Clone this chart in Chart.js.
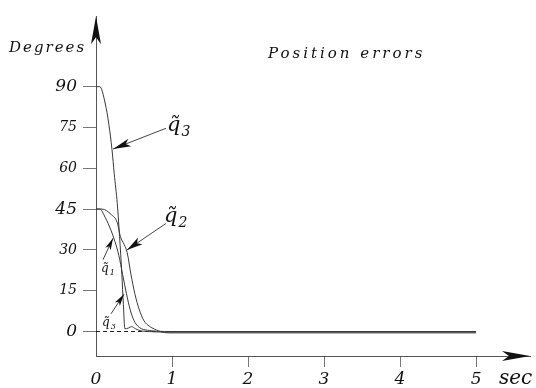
<!DOCTYPE html>
<html>
<head>
<meta charset="utf-8">
<script src="https://cdn.jsdelivr.net/npm/chart.js@4.4.1/dist/chart.umd.min.js"></script>
<style>
html, body { margin: 0; padding: 0; background: #fff; }
#wrap { width: 536px; height: 388px; }
</style>
</head>
<body>
<div id="wrap"><canvas id="chart" width="536" height="388"></canvas></div>
<script>
// values (time in sec, error in degrees)
var timeQ1 = [0, 0.05, 0.12, 0.2, 0.25, 0.3, 0.35, 0.4, 0.45, 0.5, 0.55, 0.6, 0.7, 0.8, 1.0, 5.0];
var errQ1  = [45, 45, 42, 37, 33, 28, 21, 14, 8, 4, 2, 1, 0.4, 0.1, 0, 0];

var timeQ2 = [0, 0.08, 0.2, 0.28, 0.32, 0.37, 0.41, 0.46, 0.51, 0.57, 0.63, 0.7, 0.8, 0.9, 1.0, 5.0];
var errQ2  = [45, 45, 43, 40, 35, 32, 29, 21, 14, 8, 4, 2, 0.5, -0.4, -0.5, -0.5];

var timeQ3 = [0, 0.05, 0.12, 0.17, 0.21, 0.24, 0.28, 0.31, 0.34, 0.36, 0.38, 0.42, 0.47, 0.52, 0.6, 1.0, 5.0];
var errQ3  = [90, 90, 84, 76, 67, 58, 47, 35, 21, 10, 1, 1.2, 1.8, 1, 0.2, -0.2, -0.2];

var zeroTime = [0, 5];
var zeroErr  = [0, 0];

var yTicks = [0, 15, 30, 45, 60, 75, 90];
var bigYTicks = [0, 45, 90];
var xTicks = [0, 1, 2, 3, 4, 5];

function toPoints(ts, vs) {
    return ts.map(function (t, i) { return { x: t, y: vs[i] }; });
}

var serif = '"DejaVu Serif", serif';

// stealth style arrow head with its tip at (x2, y2)
function arrowHead(ctx, x1, y1, x2, y2, len, half) {
    var a = Math.atan2(y2 - y1, x2 - x1);
    var cos = Math.cos(a), sin = Math.sin(a);
    var bx = x2 - len * cos, by = y2 - len * sin;
    var mx = x2 - len * 0.75 * cos, my = y2 - len * 0.75 * sin;
    ctx.beginPath();
    ctx.moveTo(x2, y2);
    ctx.lineTo(bx - half * sin, by + half * cos);
    ctx.lineTo(mx, my);
    ctx.lineTo(bx + half * sin, by - half * cos);
    ctx.closePath();
    ctx.fill();
}

// curve names, anchored in data units
var notes = [
    { sub: '3', t: 0.934, v: 73.6, size: 21, subSize: 14, drop: 5 },
    { sub: '2', t: 0.895, v: 40.1, size: 21, subSize: 14, drop: 5 },
    { sub: '1', t: 0.066, v: 21.7, size: 12, subSize: 8, drop: 3 },
    { sub: '3', t: 0.08, v: 2.2, size: 12, subSize: 8, drop: 3 }
];

var arrows = [
    { from: [0.92, 74.7], to: [0.224, 67.1], len: 18, half: 4 },
    { from: [0.92, 39.7], to: [0.408, 30], len: 16, half: 4 },
    { from: [0.092, 26.4], to: [0.224, 34.3], len: 12, half: 3 },
    { from: [0.197, 6.5], to: [0.368, 13.7], len: 12, half: 3 }
];

var decorPlugin = {
    id: 'decor',
    afterDraw: function (chart) {
        var ctx = chart.ctx;
        var xs = chart.scales.x, ys = chart.scales.y;
        var area = chart.chartArea;
        ctx.save();
        ctx.fillStyle = '#111';
        ctx.strokeStyle = '#444';
        ctx.lineWidth = 1;

        // axis arrows
        arrowHead(ctx, area.left, area.top + 40, area.left, area.top, 28, 5);
        arrowHead(ctx, area.right - 40, area.bottom, area.right, area.bottom, 28, 5);

        // annotation arrows
        arrows.forEach(function (a) {
            var x1 = xs.getPixelForValue(a.from[0]), y1 = ys.getPixelForValue(a.from[1]);
            var x2 = xs.getPixelForValue(a.to[0]), y2 = ys.getPixelForValue(a.to[1]);
            ctx.beginPath();
            ctx.moveTo(x1, y1);
            ctx.lineTo(x2, y2);
            ctx.stroke();
            arrowHead(ctx, x1, y1, x2, y2, a.len, a.half);
        });

        // annotation labels: q with tilde and a subscript
        ctx.textBaseline = 'alphabetic';
        ctx.textAlign = 'left';
        notes.forEach(function (n) {
            var x = xs.getPixelForValue(n.t), y = ys.getPixelForValue(n.v);
            ctx.font = 'italic ' + n.size + 'px ' + serif;
            ctx.fillText('q\u0303', x, y);
            var w = ctx.measureText('q').width;
            ctx.font = 'italic ' + n.subSize + 'px ' + serif;
            ctx.fillText(n.sub, x + w + 1, y + n.drop);
        });

        // axis names and title
        ctx.font = 'italic 15px ' + serif;
        ctx.letterSpacing = '2px';
        ctx.fillText('Degrees', 9, 52);
        ctx.letterSpacing = '3px';
        ctx.fillText('Position errors', 268, 58);
        ctx.letterSpacing = '0px';
        ctx.font = 'italic 20px ' + serif;
        ctx.fillText('sec', 499, 384);
        ctx.restore();
    }
};

var lineStyle = {
    borderColor: '#3a3a3a',
    borderWidth: 1,
    pointRadius: 0,
    fill: false,
    cubicInterpolationMode: 'monotone'
};

new Chart(document.getElementById('chart'), {
    type: 'line',
    data: {
        datasets: [
            Object.assign({ label: 'q1', data: toPoints(timeQ1, errQ1) }, lineStyle),
            Object.assign({ label: 'q2', data: toPoints(timeQ2, errQ2) }, lineStyle),
            Object.assign({ label: 'q3', data: toPoints(timeQ3, errQ3) }, lineStyle),
            {
                label: 'zero',
                data: toPoints(zeroTime, zeroErr),
                borderColor: '#222',
                borderWidth: 1,
                borderDash: [4, 3],
                pointRadius: 0
            }
        ]
    },
    options: {
        responsive: false,
        animation: false,
        devicePixelRatio: 1,
        layout: { padding: { top: 10, right: 6, left: 0, bottom: 0 } },
        plugins: {
            legend: { display: false },
            tooltip: { enabled: false },
            title: { display: false }
        },
        scales: {
            x: {
                type: 'linear',
                min: 0,
                max: 5.71,
                afterBuildTicks: function (s) { s.ticks = xTicks.map(function (v) { return { value: v }; }); },
                afterFit: function (s) { s.height = 32; },
                border: { color: '#555', width: 1 },
                grid: {
                    drawOnChartArea: false,
                    tickLength: 11,
                    color: function (c) { return c.tick && c.tick.value === 0 ? 'rgba(0,0,0,0)' : '#777'; }
                },
                ticks: {
                    autoSkip: false,
                    maxRotation: 0,
                    padding: 2,
                    color: '#111',
                    font: { family: serif, style: 'italic', size: 17 },
                    callback: function (v) { return String(v); }
                }
            },
            y: {
                min: -9,
                max: 115.9,
                afterBuildTicks: function (s) { s.ticks = yTicks.map(function (v) { return { value: v }; }); },
                afterFit: function (s) { s.width = 96; },
                border: { color: '#555', width: 1 },
                grid: { drawOnChartArea: false, tickLength: 13, color: '#777' },
                ticks: {
                    padding: 6,
                    color: '#111',
                    font: function (c) {
                        var big = c.tick && bigYTicks.indexOf(c.tick.value) >= 0;
                        return { family: serif, style: 'italic', size: big ? 17 : 14 };
                    },
                    callback: function (v) { return String(v); }
                }
            }
        }
    },
    plugins: [decorPlugin]
});
</script>
</body>
</html>
